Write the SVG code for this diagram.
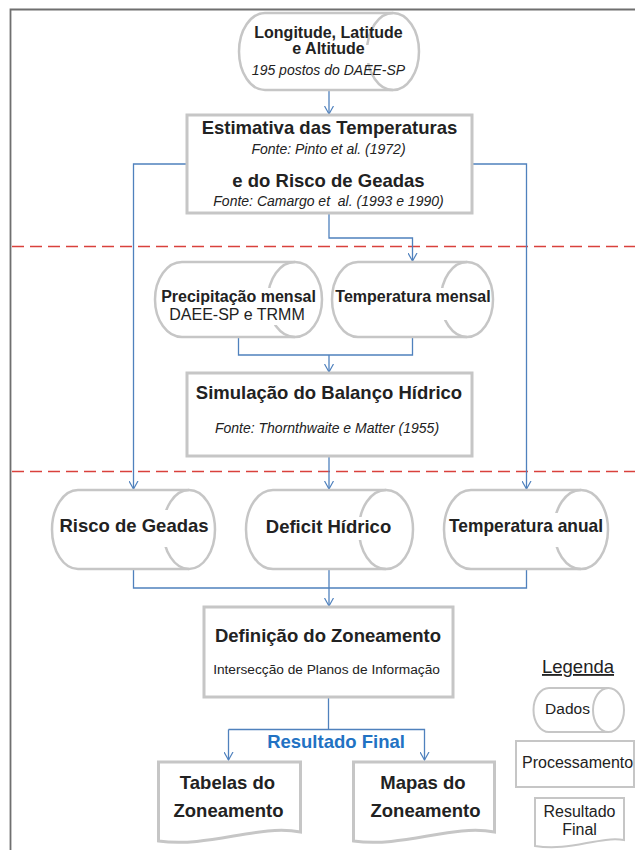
<svg xmlns="http://www.w3.org/2000/svg" width="635" height="850" viewBox="0 0 635 850">
<defs>
<marker id="arr" viewBox="0 0 9 10" refX="8.5" refY="5" markerWidth="9" markerHeight="10" markerUnits="userSpaceOnUse" orient="auto">
<path d="M0.5,0.5 L8.5,5 L0.5,9.5" fill="none" stroke="#4f81bd" stroke-width="1.2"/>
</marker>
<style>
.t{font-family:"Liberation Sans",Arial,sans-serif;fill:#222;text-anchor:middle;}
.b{font-weight:bold;}
.i{font-style:italic;}
.box{fill:#fff;stroke:#c6c6c6;stroke-width:3;}
.cyl{fill:#fff;stroke:#c6c6c6;stroke-width:2.5;}
.arc{fill:none;stroke:#c6c6c6;stroke-width:2.5;}
.lg{fill:#fff;stroke:#c6c6c6;stroke-width:2;}
.lgarc{fill:none;stroke:#c6c6c6;stroke-width:2;}
.mask{fill:#fff;stroke:none;}
.c{fill:none;stroke:#4f81bd;stroke-width:1.3;}
.ca{fill:none;stroke:#4f81bd;stroke-width:1.3;marker-end:url(#arr);}
.dash{fill:none;stroke:#d9413c;stroke-width:1.5;stroke-dasharray:12 6;}
</style>
</defs>

<path d="M10.5,850 V9.5 H635" fill="none" stroke="#6f6f6f" stroke-width="1.8"/>
<line class="dash" x1="12" y1="246.5" x2="635" y2="246.5"/>
<line class="dash" x1="12" y1="471.5" x2="635" y2="471.5"/>

<g id="connectors">
<path class="ca" d="M329,90 V114"/>
<path class="ca" d="M187,164 H133.5 V489"/>
<path class="ca" d="M472,164 H526.5 V489"/>
<path class="ca" d="M329,213 V238 H412.5 V261"/>
<path class="c" d="M238.5,337 V355 H412.5 V337"/>
<path class="ca" d="M329,355 V372"/>
<path class="ca" d="M329,456 V489"/>
<path class="c" d="M133.5,569 V588 H526.5 V569"/>
<path class="ca" d="M329,569 V606"/>
<path class="c" d="M328.5,697 V729.5"/>
<path class="ca" d="M228.5,729.5 H424.5 V760"/>
<path class="ca" d="M228.5,729.5 V760"/>
</g>

<g id="n-coords">
<path class="cyl" d="M265,13 H393 A26,38.5 0 0 1 393,90 H265 A26,38.5 0 0 1 265,13 Z"/>
<path class="arc" d="M393,13 A26,38.5 0 0 0 393,90"/>
<rect class="mask" x="360" y="45" width="36" height="18"/>
<text class="t b" x="328.5" y="38" font-size="16">Longitude, Latitude</text>
<text class="t b" x="328.5" y="53.5" font-size="16">e Altitude</text>
<text class="t i" x="328.5" y="75" font-size="14">195 postos do DAEE-SP</text>
</g>

<g id="n-estimativa">
<rect class="box" x="187" y="115" width="285" height="98"/>
<text class="t b" x="329.5" y="134" font-size="18.5">Estimativa das Temperaturas</text>
<text class="t i" x="328.5" y="154" font-size="14">Fonte: Pinto et al. (1972)</text>
<text class="t b" x="328.5" y="187" font-size="18.5">e do Risco de Geadas</text>
<text class="t i" x="328.5" y="206" font-size="14" style="white-space:pre">Fonte: Camargo et  al. (1993 e 1990)</text>
</g>

<g id="n-precip">
<path class="cyl" d="M182,262 H295 A27,37.5 0 0 1 295,337 H182 A27,37.5 0 0 1 182,262 Z"/>
<path class="arc" d="M295,262 A27,37.5 0 0 0 295,337"/>
<rect class="mask" x="265" y="288" width="33" height="37"/>
<text class="t b" x="238.5" y="302" font-size="16">Precipitação mensal</text>
<text class="t" x="237" y="320" font-size="16">DAEE-SP e TRMM</text>
</g>

<g id="n-tempmensal">
<path class="cyl" d="M358,262 H467 A26,37.5 0 0 1 467,337 H358 A26,37.5 0 0 1 358,262 Z"/>
<path class="arc" d="M467,262 A26,37.5 0 0 0 467,337"/>
<rect class="mask" x="438" y="288" width="32" height="32"/>
<text class="t b" x="413" y="302" font-size="16">Temperatura mensal</text>
</g>

<g id="n-simulacao">
<rect class="box" x="187" y="373" width="285" height="83"/>
<text class="t b" x="329" y="399" font-size="18.5">Simulação do Balanço Hídrico</text>
<text class="t i" x="327" y="433" font-size="14">Fonte: Thornthwaite e Matter (1955)</text>
</g>

<g id="n-risco">
<path class="cyl" d="M78,490 H189 A26,39.5 0 0 1 189,569 H78 A26,39.5 0 0 1 78,490 Z"/>
<path class="arc" d="M189,490 A26,39.5 0 0 0 189,569"/>
<rect class="mask" x="160" y="510" width="32" height="37"/>
<text class="t b" x="134" y="532" font-size="18.5">Risco de Geadas</text>
</g>

<g id="n-deficit">
<path class="cyl" d="M273,490 H386 A27,39.5 0 0 1 386,569 H273 A27,39.5 0 0 1 273,490 Z"/>
<path class="arc" d="M386,490 A27,39.5 0 0 0 386,569"/>
<rect class="mask" x="355" y="517" width="34" height="23"/>
<text class="t b" x="328.5" y="533" font-size="18.5">Deficit Hídrico</text>
</g>

<g id="n-tempanual">
<path class="cyl" d="M471,490 H581 A27,39.5 0 0 1 581,569 H471 A27,39.5 0 0 1 471,490 Z"/>
<path class="arc" d="M581,490 A27,39.5 0 0 0 581,569"/>
<rect class="mask" x="551" y="513" width="33" height="34"/>
<text class="t b" x="526" y="532" font-size="18.5" textLength="154" lengthAdjust="spacingAndGlyphs">Temperatura anual</text>
</g>

<g id="n-definicao">
<rect class="box" x="204" y="607" width="249" height="90"/>
<text class="t b" x="328" y="642" font-size="18.5">Definição do Zoneamento</text>
<text class="t" x="326.5" y="674" font-size="13.7">Intersecção de Planos de Informação</text>
</g>

<g id="n-resultado">
<text class="t b" x="336" y="748" font-size="18.5" style="fill:#2272c3">Resultado Final</text>
</g>

<g id="n-tabelas">
<path class="box" d="M158.5,762 H300.5 V832 C258,824 210,848 158.5,841 Z"/>
<text class="t b" x="227.5" y="789" font-size="18.5">Tabelas do</text>
<text class="t b" x="228.5" y="817" font-size="18.5">Zoneamento</text>
</g>

<g id="n-mapas">
<path class="box" d="M353.5,762 H494.5 V832 C452,824 404,848 353.5,841 Z"/>
<text class="t b" x="423" y="789" font-size="18.5">Mapas do</text>
<text class="t b" x="425.5" y="817" font-size="18.5">Zoneamento</text>
</g>

<g id="legend">
<text class="t" x="578" y="673" font-size="18.5" text-decoration="underline">Legenda</text>
<g id="lg-dados">
<path class="lg" d="M549,688 H608.5 A15.5,22 0 0 1 608.5,732 H549 A15.5,22 0 0 1 549,688 Z"/>
<path class="lgarc" d="M608.5,688 A15.5,22 0 0 0 608.5,732"/>
<text class="t" x="567.5" y="714" font-size="15.5">Dados</text>
</g>
<g id="lg-proc">
<rect class="lg" x="516" y="741" width="118" height="46"/>
<text class="t" x="522" y="768" font-size="16" style="text-anchor:start">Processamento</text>
</g>
<g id="lg-final">
<path class="lg" d="M535,798 H624 V840 C598,836 570,852 535,846 Z"/>
<text class="t" x="579.5" y="816.5" font-size="16">Resultado</text>
<text class="t" x="579.5" y="835" font-size="16">Final</text>
</g>
</g>
</svg>
